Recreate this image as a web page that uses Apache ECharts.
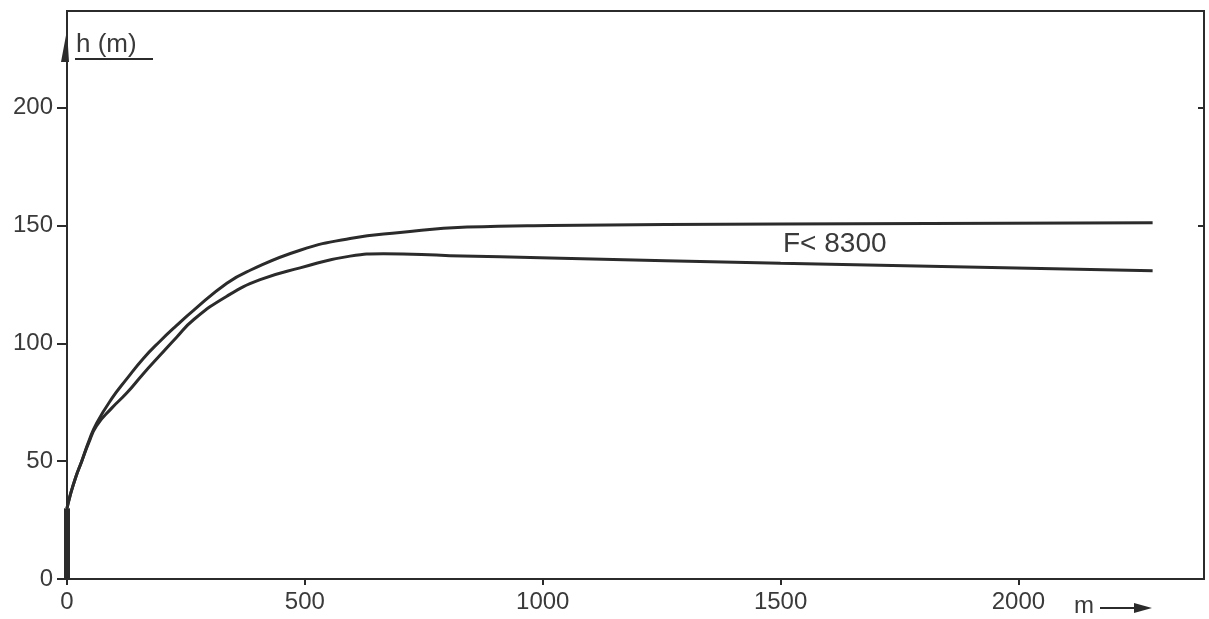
<!DOCTYPE html>
<html lang="de">

<head>
    <meta charset="utf-8">
    <title>h (m) - F&lt; 8300</title>
    <script src="https://cdn.jsdelivr.net/npm/echarts@6/dist/echarts.min.js"></script>
    <style>
        html,
        body,
        #chart {
            width: 100%;
            height: 100%;
            margin: 0;
            padding: 0;
            overflow: hidden;
            background-color: #ffffff;
        }
    </style>
</head>

<body>
    <div id="chart"></div>
    <script>
        // Werte (x in m, h in m)
        var upperCurve = [[0, 30], [6, 35], [18, 43], [31, 50], [46, 58.5], [62, 66], [94, 76.5], [126, 85], [160, 93.5],
            [196, 101], [230, 107.5], [266, 114], [336, 125.5], [385, 131], [490, 139.5], [595, 144.5], [700, 147],
            [841, 149.3], [1016, 150], [1500, 150.6], [2282, 151.2]];
        var lowerCurve = [[0, 30], [6, 35], [18, 43], [31, 50], [46, 58], [62, 65], [94, 72.5], [126, 79], [160, 87],
            [196, 95], [230, 102.5], [266, 110], [336, 120], [406, 127], [490, 132], [595, 137], [665, 138],
            [805, 137.2], [1016, 136.2], [1500, 134], [2282, 130.8]];
        var startBar = [[0, 0], [0, 30]];
        var xTicks = [0, 500, 1000, 1500, 2000];
        var yTicks = [0, 50, 100, 150, 200];
        var curveLabel = 'F< 8300';

        var ink = '#2b2b2b';
        var txt = '#3a3a3a';
        var font = 'Liberation Sans';

        var myChart = echarts.init(document.getElementById('chart'));

        var option = {
            backgroundColor: '#ffffff',
            animation: false,
            grid: {
                left: 67,
                right: 5,
                top: 11,
                bottom: 40,
                show: true,
                borderColor: ink,
                borderWidth: 2
            },
            xAxis: {
                type: 'value',
                min: 0,
                max: 2390,
                splitLine: { show: false },
                axisLine: { lineStyle: { color: ink, width: 2 } },
                axisTick: { customValues: xTicks, length: 6, lineStyle: { color: ink, width: 2 } },
                axisLabel: {
                    customValues: xTicks,
                    formatter: function (v) { return String(v); },
                    color: txt,
                    fontFamily: font,
                    fontSize: 24,
                    margin: 11
                }
            },
            yAxis: [
                {
                    type: 'value',
                    min: 0,
                    max: 241,
                    splitLine: { show: false },
                    axisLine: { lineStyle: { color: ink, width: 2 } },
                    axisTick: { customValues: yTicks, length: 10, lineStyle: { color: ink, width: 2 } },
                    axisLabel: {
                        customValues: yTicks,
                        formatter: function (v) { return String(v); },
                        color: txt,
                        fontFamily: font,
                        fontSize: 24,
                        margin: 14
                    }
                },
                {
                    type: 'value',
                    position: 'right',
                    min: 0,
                    max: 241,
                    splitLine: { show: false },
                    axisLine: { show: false },
                    axisTick: { customValues: [150, 200], inside: true, length: 6, lineStyle: { color: ink, width: 2 } },
                    axisLabel: { show: false }
                }
            ],
            graphic: [
                {
                    type: 'text',
                    left: 76,
                    top: 32,
                    style: { text: 'h (m)', fill: txt, font: '26px ' + font }
                },
                {
                    type: 'line',
                    shape: { x1: 75, y1: 59, x2: 153, y2: 59 },
                    style: { stroke: ink, lineWidth: 2 }
                },
                {
                    type: 'polygon',
                    shape: { points: [[61, 62], [67, 30], [69, 62]] },
                    style: { fill: ink }
                },
                {
                    type: 'text',
                    left: 783,
                    top: 230,
                    style: { text: curveLabel, fill: txt, font: '28px ' + font }
                },
                {
                    type: 'text',
                    left: 1074,
                    top: 594,
                    style: { text: 'm', fill: txt, font: '24px ' + font }
                },
                {
                    type: 'line',
                    shape: { x1: 1100, y1: 608, x2: 1136, y2: 608 },
                    style: { stroke: ink, lineWidth: 2 }
                },
                {
                    type: 'polygon',
                    shape: { points: [[1134, 603], [1152, 608], [1134, 613]] },
                    style: { fill: ink }
                }
            ],
            series: [
                {
                    name: 'oben',
                    type: 'line',
                    data: upperCurve,
                    smooth: 0.5,
                    showSymbol: false,
                    lineStyle: { color: ink, width: 3 }
                },
                {
                    name: 'unten',
                    type: 'line',
                    data: lowerCurve,
                    smooth: 0.5,
                    showSymbol: false,
                    lineStyle: { color: ink, width: 3 }
                },
                {
                    name: 'start',
                    type: 'line',
                    data: startBar,
                    showSymbol: false,
                    lineStyle: { color: ink, width: 6 }
                }
            ]
        };
        myChart.setOption(option);
    </script>
</body>

</html>
